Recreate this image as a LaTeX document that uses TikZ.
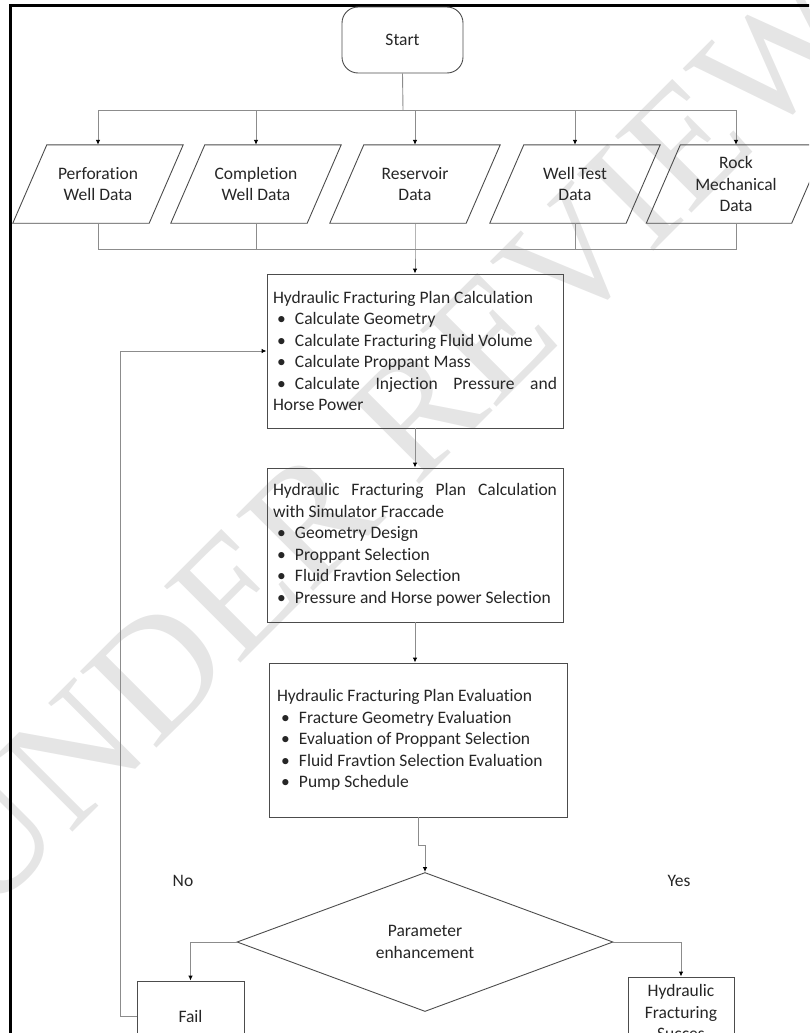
\documentclass[tikz,border=0pt]{standalone}
\usepackage{fontspec}
\setmainfont{Carlito}[Ligatures={NoCommon}]
\newfontfamily\wmfont{Liberation Serif}
\usetikzlibrary{arrows.meta,shapes.geometric,calc}
\hyphenpenalty=10000
\exhyphenpenalty=10000
\newcommand\bul[1]{\par\noindent\hangindent=22pt\hangafter=1\hbox to 22pt{\hspace{4pt}\textbullet\hfil}#1}
\begin{document}
\begin{tikzpicture}[x=1pt,y=-1pt,
  every node/.style={font=\fontsize{17.5pt}{21.5pt}\selectfont, text=black!85},
  conn/.style={draw=black!45,line width=0.9pt},
  arr/.style={conn,-{Latex[length=5pt,width=4.5pt,color=black]}},
  shp/.style={draw=black!70,line width=0.9pt},
  pbox/.style={shp,rectangle,inner sep=6pt,text width=284pt,minimum height=154pt,align=justify},
  ptxt/.style={rectangle,minimum width=136pt,minimum height=78pt,align=center,inner sep=0pt},
  wm/.style={font=\wmfont\fontsize{165pt}{165pt}\selectfont,text=black!10,inner sep=0pt}
]
\useasboundingbox (0,0) rectangle (809,1033);
\clip (0,0) rectangle (809,1033);
% watermark
\node[wm,rotate=45] (wmark) at (390,440) {UNDER REVIEW};
% frame
\draw[line width=3.5pt] (10.5,5.5) rectangle (830,1060);
% start
\node[shp,rounded corners=16pt,minimum width=121pt,minimum height=66pt] (start) at (402.5,40) {Start};
% data inputs
\node[ptxt] (p1) at (98,184) {Perforation\\Well Data};
\node[ptxt] (p2) at (256,184) {Completion\\Well Data};
\node[ptxt] (p3) at (415,184) {Reservoir\\Data};
\node[ptxt] (p4) at (575,184) {Well Test\\Data};
\node[ptxt,minimum width=145pt] (p5) at (736,184) {Rock\\Mechanical\\Data};
\foreach \n in {p1,p2,p3,p4,p5}
  \draw[shp] ([xshift=17pt]\n.north west) -- ([xshift=17pt]\n.north east) -- ([xshift=-17pt]\n.south east) -- ([xshift=-17pt]\n.south west) -- cycle;
% process boxes
\node[pbox] (b1) at (415,351) {\noindent Hydraulic Fracturing Plan Calculation\bul{Calculate Geometry}\bul{Calculate Fracturing Fluid Volume}\bul{Calculate Proppant Mass}\bul{Calculate Injection Pressure and Horse Power}};
\node[pbox] (b2) at (415,545) {\noindent Hydraulic Fracturing Plan Calculation with Simulator Fraccade\bul{Geometry Design}\bul{Proppant Selection}\bul{Fluid Fravtion Selection}\bul{Pressure and Horse power Selection}};
\node[pbox,text width=282pt,inner sep=8pt] (b3) at (418,740) {\noindent Hydraulic Fracturing Plan Evaluation\bul{Fracture Geometry Evaluation}\bul{Evaluation of Proppant Selection}\bul{Fluid Fravtion Selection Evaluation}\bul{Pump Schedule}};
% decision
\node[shp,diamond,minimum width=376pt,minimum height=139pt,inner sep=0pt,align=center] (dia) at (425,942) {Parameter\\enhancement};
\node[shp,rectangle,minimum width=107pt,minimum height=70pt] (fail) at (190.5,1016) {Fail};
\node[shp,rectangle,minimum width=106pt,minimum height=70pt,inner sep=2pt,align=center] (succ) at (681,1012) {Hydraulic\\Fracturing\\Succes};
\node (no) at (183,881) {No};
\node (yes) at (679,881) {Yes};
% connectors
\coordinate (split) at (403,110);
\draw[conn] (start.south) -- (split);
\foreach \n in {p1,p2,p3,p4,p5}
  \draw[arr] (split) -| (\n.north);
\coordinate (merge) at (415,249);
\foreach \n in {p1,p2,p4,p5}
  \draw[conn] (\n.south) |- (merge);
\draw[arr] (p3.south) -- (merge) -- (b1.north);
\draw[arr] (b1.south) -- (b2.north);
\draw[arr] (b2.south) -- (b2.south |- b3.north);
\draw[arr] (b3.south) -- ++(0,28) -| (dia.north);
\draw[arr] (dia.west) -| (fail.north);
\draw[arr] (dia.east) -| (succ.north);
\draw[arr] (fail.west) -- ++(-16,0) |- (b1.west);
\end{tikzpicture}
\end{document}
